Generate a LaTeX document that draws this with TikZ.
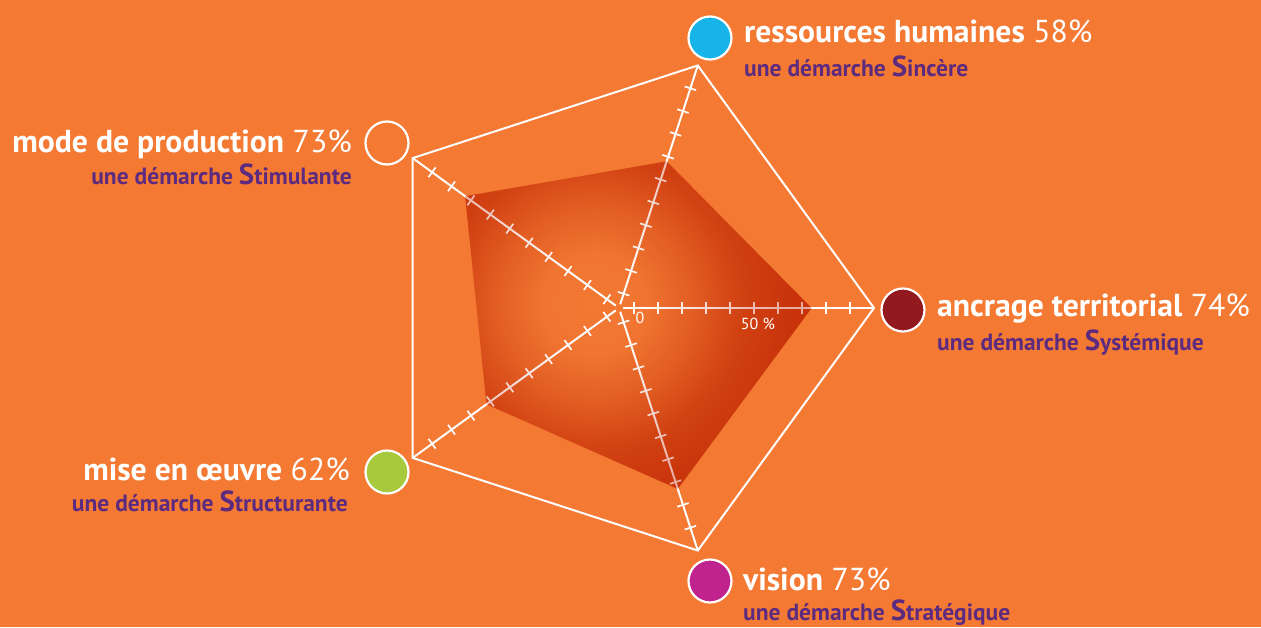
\documentclass[tikz,border=0pt]{standalone}
\usepackage{fontspec}
\setmainfont{PT Sans}
\usetikzlibrary{fadings}

\definecolor{fond}{HTML}{F47A34}
\definecolor{demviolet}{HTML}{5C2A7F}
\definecolor{rhbleu}{HTML}{17B4E9}
\definecolor{ancrrouge}{HTML}{921A1E}
\definecolor{visionrose}{HTML}{C1238E}
\definecolor{oeuvrevert}{HTML}{A7CA3C}
\definecolor{polyrouge}{HTML}{BE2200}

\pgfdeclareradialshading{polyfadeshade}{\pgfpointorigin}{color(0pt)=(black); color(50pt)=(black!96); color(100pt)=(black!68); color(150pt)=(black!28); color(200pt)=(black!5); color(300pt)=(white)}
\pgfdeclarefading{polyfade}{\pgfuseshading{polyfadeshade}}

\newcommand{\demarche}[2]{une démarche {\fontsize{29}{29}\selectfont #1}#2}

\begin{document}
\begin{tikzpicture}[x=1pt,y=1pt,
  axe/.style={draw=white,line width=2pt},
  graduation/.style={draw=white,line width=1.7pt},
  cadre/.style={draw=white,line width=2pt,line join=miter},
  pastille/.style={circle,draw=white,line width=2.2pt,minimum size=43pt,inner sep=0pt},
  titre/.style={text=white,inner sep=0pt,font=\fontsize{31.7}{34}\selectfont},
  soustitre/.style={text=demviolet,inner sep=0pt,font=\bfseries\fontsize{23.5}{26}\selectfont},
  echelle/.style={text=white,inner sep=0pt,font=\fontsize{16}{18}\selectfont},
  zone/.style={fill=polyrouge,path fading=polyfade,fit fading=false,fading transform={shift={(-25,4)}}}]
		\fill[fond] (-619,-319) rectangle (642,308);
		\useasboundingbox (-619,-319) rectangle (642,308);
		%
		% sommets du cadre et valeurs
		\foreach \a/\v/\n in {0/74/ancr,72/58/rh,144/73/prod,216/62/oeuvre,288/73/vision}{
			\coordinate (cadre-\n) at (\a:255);
			\coordinate (val-\n) at (\a:{15+2.4*\v});
		}
		\draw[cadre] (cadre-ancr) -- (cadre-rh) -- (cadre-prod) -- (cadre-oeuvre) -- (cadre-vision) -- cycle;
		\fill[zone,fill opacity=0.7] (val-ancr) -- (val-rh) -- (val-prod) -- (val-oeuvre) -- (val-vision) -- cycle;
		%
		% axes gradues
		\foreach \a/\n in {0/ancr,72/rh,144/prod,216/oeuvre,288/vision}{
			\begin{scope}[rotate=\a]
				\draw[axe] (4,0) -- (cadre-\n);
				\foreach \k in {0,...,9}
					\draw[graduation] ({15+24*\k},-6) -- ({15+24*\k},6);
			\end{scope}
		}
		\fill[zone,fill opacity=0.4] (val-ancr) -- (val-rh) -- (val-prod) -- (val-oeuvre) -- (val-vision) -- cycle;
		%
		\node[echelle] (zero) at (21,-9.5) {0};
		\node[echelle] (cinquante) at (139,-16) {50 \%};
		%
		% pastilles
		\node[pastille,fill=rhbleu] (rh) at (91,270) {};
		\node[pastille] (prod) at (-232,165) {};
		\node[pastille,fill=ancrrouge] (ancr) at (284,-2) {};
		\node[pastille,fill=oeuvrevert] (oeuvre) at (-232,-164) {};
		\node[pastille,fill=visionrose] (vision) at (91,-273) {};
		%
		% titres
		\node[titre,anchor=base west] (rh-t) at (125,265) {\textbf{ressources humaines} 58\%};
		\node[soustitre,anchor=base west] (rh-s) at (125,231) {\demarche{S}{incère}};
		\node[titre,anchor=base west] (ancr-t) at (318,-8.7) {\textbf{ancrage territorial} 74\%};
		\node[soustitre,anchor=base west] (ancr-s) at (318,-42) {\demarche{S}{ystémique}};
		\node[titre,anchor=base west] (vision-t) at (124,-282) {\textbf{vision} 73\%};
		\node[soustitre,anchor=base west] (vision-s) at (124,-312.5) {\demarche{S}{tratégique}};
		\node[titre,anchor=base east] (prod-t) at (-267,155) {\textbf{mode de production} 73\%};
		\node[soustitre,anchor=base east] (prod-s) at (-267,123) {\demarche{S}{timulante}};
		\node[titre,anchor=base east] (oeuvre-t) at (-269,-172.7) {\textbf{mise en œuvre} 62\%};
		\node[soustitre,anchor=base east] (oeuvre-s) at (-271,-203.7) {\demarche{S}{tructurante}};
\end{tikzpicture}
\end{document}
